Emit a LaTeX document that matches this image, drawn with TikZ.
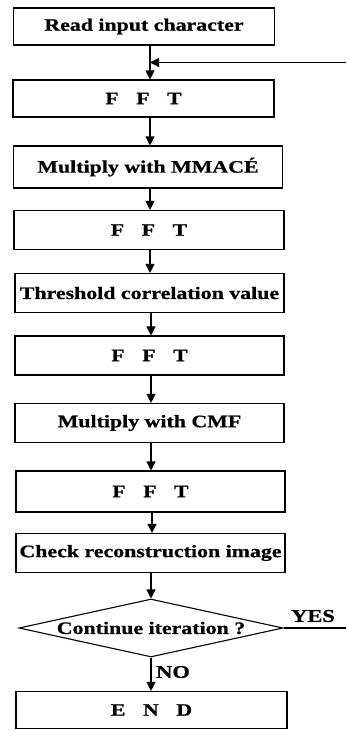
\documentclass[tikz,border=0pt]{standalone}
\usepackage{fontspec}
\setmainfont[FakeStretch=1.25,BoldFeatures={FakeBold=0.8}]{Liberation Serif}
\usepackage{tikz}
\usetikzlibrary{shapes.geometric,arrows.meta}
\tikzset{
	stepbox/.style={draw,line width=1.1pt,minimum height=39pt,inner sep=0pt,font=\bfseries\fontsize{17.5}{20}\selectfont},
	decbox/.style={draw,line width=1.1pt,diamond,aspect=4.5,minimum width=264pt,minimum height=58pt,inner sep=0pt,font=\bfseries\fontsize{17.5}{20}\selectfont},
	lbl/.style={font=\bfseries\fontsize{18}{20}\selectfont,inner sep=0pt},
	flow/.style={line width=1.1pt,-{Triangle[length=9pt,width=9pt]}}
}
\begin{document}
\begin{tikzpicture}[x=1pt,y=-1pt]
	\useasboundingbox (0,0) rectangle (346,731);
	
	%boxes
	\node[stepbox,minimum width=261pt,minimum height=37pt] (read) at (144,26.5) {Read input character};
	\node[stepbox,minimum width=261pt,minimum height=37pt] (fft1) at (143.5,98.5) {F\quad F\quad T};
	\node[stepbox,minimum width=269pt,minimum height=42pt] (mmace) at (148,167) {Multiply with MMAC\'E};
	\node[stepbox,minimum width=270pt] (fft2) at (149,230) {F\quad F\quad T};
	\node[stepbox,minimum width=269pt] (thresh) at (149.5,293) {Threshold correlation value};
	\node[stepbox,minimum width=269pt] (fft3) at (149.5,355.5) {F\quad F\quad T};
	\node[stepbox,minimum width=269pt] (cmf) at (149.5,423) {Multiply with CMF};
	\node[stepbox,minimum width=269pt,minimum height=41pt] (fft4) at (150.5,491.5) {F\quad F\quad T};
	\node[stepbox,minimum width=269pt] (check) at (150.5,553) {Check reconstruction image};
	\node[decbox] (cont) at (151,628) {Continue iteration ?};
	\node[stepbox,minimum width=271pt,minimum height=37pt] (stop) at (151.5,710) {E\quad N\quad D};
	
	%labels
	\node[lbl] (yes) at (313,616) {YES};
	\node[lbl] (no) at (173,672) {NO};
	
	%columns of the arrows
	\coordinate (join) at (150,62.5);
	\coordinate (col) at (151,0);
	\coordinate (col2) at (152,0);
	%loop back line (comes in from the right)
	\coordinate (loopin) at (346,62.5);
	\coordinate (yesout) at (346,628);
	\draw[line width=1.1pt] (read.south -| join) -- (join);
	\draw[flow] (join) -- (join |- fft1.north);
	\draw[flow] (loopin) -- (join);
	
	%arrows down
	\draw[flow] (fft1.south -| join) -- (join |- mmace.north);
	\draw[flow] (mmace.south -| join) -- (join |- fft2.north);
	\draw[flow] (fft2.south -| join) -- (join |- thresh.north);
	\draw[flow] (thresh.south -| col) -- (col |- fft3.north);
	\draw[flow] (fft3.south -| col) -- (col |- cmf.north);
	\draw[flow] (cmf.south -| col) -- (col |- fft4.north);
	\draw[flow] (fft4.south -| col2) -- (col2 |- check.north);
	\draw[flow] (check.south -| cont.north) -- (cont.north);
	\draw[flow] (cont.south) -- (cont.south |- stop.north);
	\draw[line width=1.1pt] (cont.east) -- (yesout);
\end{tikzpicture}
\end{document}
